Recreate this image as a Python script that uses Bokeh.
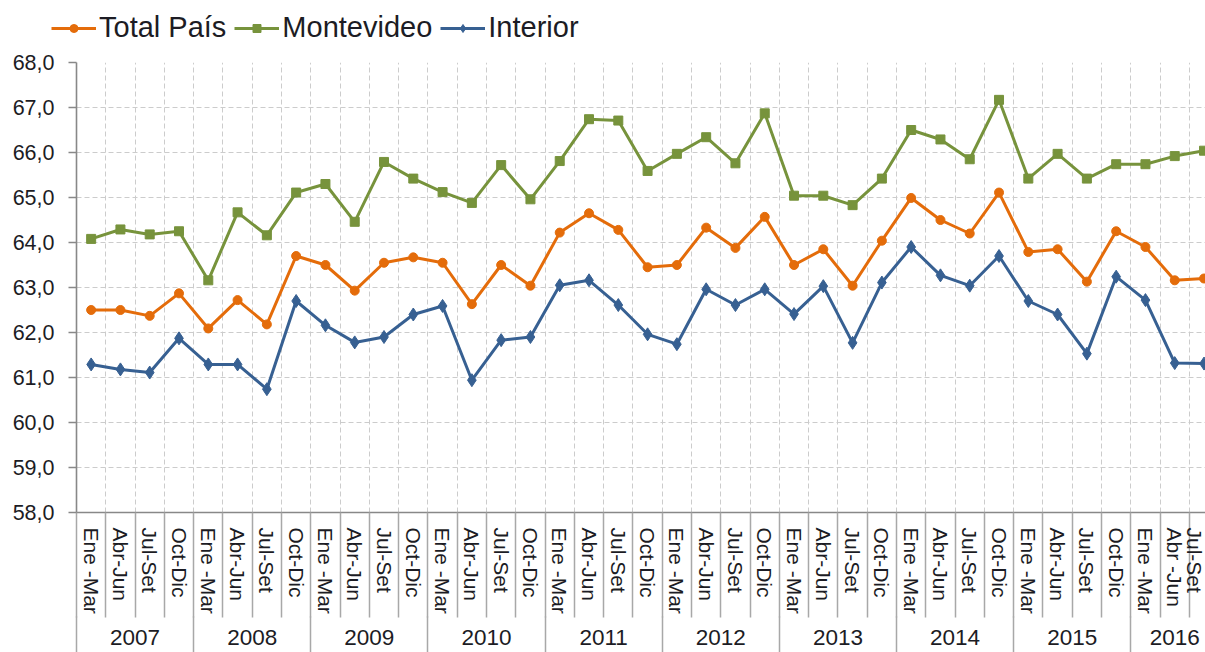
from bokeh.plotting import figure
from bokeh.layouts import column
from bokeh.models import Range1d, LinearAxis, FixedTicker, Legend, LegendItem, Grid
from bokeh.embed import file_html
from bokeh.resources import INLINE

# ---------------- data ----------------
years = ["2007", "2008", "2009", "2010", "2011", "2012", "2013", "2014", "2015", "2016"]
quarters_per_year = [4, 4, 4, 4, 4, 4, 4, 4, 4, 3]
quarter_labels = (
    ["Ene -Mar", "Abr-Jun", "Jul-Set", "Oct-Dic"] * 9
    + ["Ene -Mar", "Abr -Jun", "Jul-Set"]
)

total_pais = [62.50, 62.50, 62.37, 62.87,
              62.09, 62.72, 62.18, 63.70,
              63.50, 62.93, 63.55, 63.67,
              63.55, 62.63, 63.50, 63.04,
              64.22, 64.65, 64.28, 63.45,
              63.50, 64.33, 63.88, 64.57,
              63.50, 63.85, 63.04, 64.04,
              64.99, 64.50, 64.20, 65.11,
              63.79, 63.85, 63.13, 64.25,
              63.90, 63.16, 63.20]

montevideo = [64.08, 64.29, 64.18, 64.25,
              63.16, 64.67, 64.16, 65.11,
              65.30, 64.46, 65.79, 65.42,
              65.12, 64.88, 65.72, 64.96,
              65.81, 66.74, 66.71, 65.59,
              65.97, 66.34, 65.76, 66.87,
              65.04, 65.04, 64.83, 65.42,
              66.50, 66.29, 65.85, 67.17,
              65.42, 65.97, 65.42, 65.74,
              65.74, 65.92, 66.04]

interior = [61.29, 61.18, 61.11, 61.87,
            61.29, 61.29, 60.74, 62.70,
            62.16, 61.78, 61.90, 62.40,
            62.59, 60.94, 61.83, 61.90,
            63.05, 63.16, 62.61, 61.96,
            61.74, 62.96, 62.61, 62.96,
            62.41, 63.03, 61.77, 63.11,
            63.90, 63.27, 63.04, 63.70,
            62.70, 62.40, 61.53, 63.24,
            62.72, 61.32, 61.31]

y_ticks = [58, 59, 60, 61, 62, 63, 64, 65, 66, 67, 68]
y_tick_labels = ["58,0", "59,0", "60,0", "61,0", "62,0", "63,0",
                 "64,0", "65,0", "66,0", "67,0", "68,0"]

series_names = ["Total País", "Montevideo", "Interior"]
colors = ["#E46C0A", "#77933C", "#376092"]

# ---------------- derived positions ----------------
n = len(total_pais)
xs = list(range(n))
boundaries = [i - 0.5 for i in range(n + 1)]
year_centers, year_bounds = [], []
start = 0
for q in quarters_per_year:
    year_centers.append(float(start + (q - 1) / 2))
    year_bounds.append(start - 0.5)
    start += q

FONT = "Liberation Sans"
TEXT = "#1c1c24"
AXIS = "#888888"
SEP = "#a8a8a8"
markers = ["circle", "square", "diamond"]
sizes = [9, 9, 13]
series = [total_pais, montevideo, interior]

# ---------------- main chart ----------------
p = figure(width=1205, height=602, output_backend="svg", toolbar_location=None,
           x_range=Range1d(-0.5, 38.05), y_range=Range1d(58, 68),
           x_axis_type=None, y_axis_type=None,
           min_border_left=76, min_border_right=0, min_border_top=12,
           min_border_bottom=140)
p.outline_line_color = None
p.background_fill_color = "white"
p.border_fill_color = "white"
p.frame_align = False

p.add_layout(Grid(dimension=0, ticker=FixedTicker(ticks=boundaries),
                  grid_line_color="#cccccc", grid_line_dash="5 3", grid_line_width=1))
p.add_layout(Grid(dimension=1, ticker=FixedTicker(ticks=y_ticks),
                  grid_line_color="#cccccc", grid_line_dash="5 3", grid_line_width=1))

yaxis = LinearAxis(ticker=FixedTicker(ticks=y_ticks),
                   major_label_overrides={t: l for t, l in zip(y_ticks, y_tick_labels)},
                   axis_line_color=AXIS, axis_line_width=1.6,
                   major_tick_line_color=AXIS, major_tick_line_width=1.6,
                   major_tick_out=8, major_tick_in=0,
                   minor_tick_line_color=None, minor_tick_out=0, minor_tick_in=0,
                   major_label_standoff=14,
                   major_label_text_font=FONT, major_label_text_font_size="21.5px",
                   major_label_text_color=TEXT)
p.add_layout(yaxis, "left")

qaxis = LinearAxis(ticker=FixedTicker(ticks=xs, minor_ticks=boundaries),
                   major_label_overrides={i: l for i, l in zip(xs, quarter_labels)},
                   major_label_orientation="vertical",
                   axis_line_color=AXIS, axis_line_width=1.6,
                   major_tick_line_color=None, major_tick_out=0, major_tick_in=0,
                   minor_tick_line_color=SEP, minor_tick_line_width=1.5,
                   minor_tick_out=105, minor_tick_in=0,
                   major_label_standoff=-90,
                   major_label_text_font=FONT, major_label_text_font_size="21px",
                   major_label_text_color=TEXT)
p.add_layout(qaxis, "below")

yraxis = LinearAxis(ticker=FixedTicker(ticks=year_centers, minor_ticks=year_bounds),
                    major_label_overrides={c: y for c, y in zip(year_centers, years)},
                    axis_line_color=None,
                    major_tick_line_color=None, major_tick_out=0, major_tick_in=0,
                    minor_tick_line_color=SEP, minor_tick_line_width=1.5,
                    minor_tick_in=0, minor_tick_out=40,
                    major_label_standoff=-27,
                    major_label_text_font=FONT, major_label_text_font_size="22.5px",
                    major_label_text_color=TEXT)
p.add_layout(yraxis, "below")

for vals, col, mk, sz in zip(series, colors, markers, sizes):
    p.line(xs, vals, line_color=col, line_width=3)
    p.scatter(xs, vals, marker=mk, size=sz, fill_color=col, line_color=col)

# ---------------- legend strip (same series, outside its visible range) ----------------
lf = figure(width=1205, height=50, output_backend="svg", toolbar_location=None,
            x_range=Range1d(100, 101), y_range=Range1d(0, 1),
            x_axis_type=None, y_axis_type=None,
            min_border_left=0, min_border_right=0, min_border_top=0, min_border_bottom=0)
lf.outline_line_color = None
lf.frame_align = False
items = []
for name, vals, col, mk, sz in zip(series_names, series, colors, markers, sizes):
    ln = lf.line(xs, vals, line_color=col, line_width=3)
    sc = lf.scatter(xs, vals, marker=mk, size=sz, fill_color=col, line_color=col)
    items.append(LegendItem(label=name, renderers=[ln, sc]))
legend = Legend(items=items, orientation="horizontal", location=(51, 6),
                border_line_color=None, background_fill_alpha=0,
                label_text_font=FONT, label_text_font_size="29px",
                label_text_color=TEXT, glyph_width=45, glyph_height=20,
                label_standoff=3, spacing=8, padding=3, margin=0)
lf.add_layout(legend, "center")

layout = column(lf, p, spacing=0)
open("out.html", "w").write(file_html(layout, INLINE))
